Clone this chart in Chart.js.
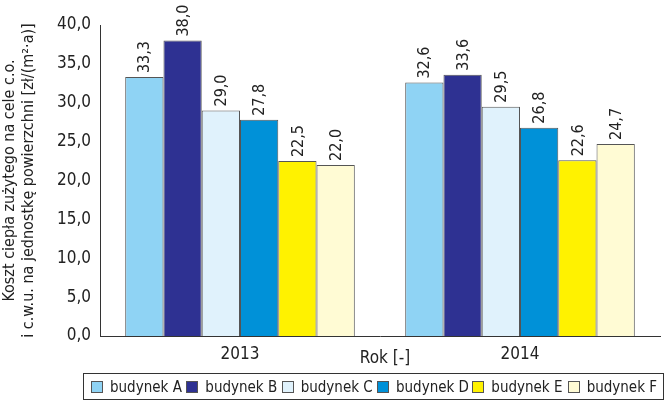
<!DOCTYPE html>
<html>
<head>
<meta charset="utf-8">
<script src="https://cdn.jsdelivr.net/npm/chart.js@4"></script>
<style>
  body { margin: 0; background: #fff; }
  #wrap { position: relative; width: 670px; height: 407px; }
  #legend {
    position: absolute; left: 83px; top: 373px; width: 579px; height: 25px;
    border: 1px solid #333; display: flex; align-items: center;
    font-family: "DejaVu Sans Condensed", "DejaVu Sans", sans-serif;
    font-stretch: condensed;
    font-size: 15px; color: #222; white-space: nowrap;
  }
  #legend .item { display: flex; align-items: center; width: 97px; }
  #legend .item:first-child { margin-left: 7px; }
  #legend .box { width: 10px; height: 10px; border: 1px solid #555; margin-right: 7px; flex: none; }
</style>
</head>
<body>
<div id="wrap">
  <canvas id="chart" width="670" height="407"></canvas>
  <div id="legend"></div>
</div>
<script>
const years = ['2013', '2014'];
const buildings = ['budynek A', 'budynek B', 'budynek C', 'budynek D', 'budynek E', 'budynek F'];
const budynekA = [33.3, 32.6];
const budynekB = [38.0, 33.6];
const budynekC = [29.0, 29.5];
const budynekD = [27.8, 26.8];
const budynekE = [22.5, 22.6];
const budynekF = [22.0, 24.7];
const colors = ['#8fd3f4', '#2e3192', '#e0f2fc', '#0091d8', '#fff200', '#fffbd4'];

const FONT = '"DejaVu Sans Condensed", "DejaVu Sans", sans-serif';
const series = [budynekA, budynekB, budynekC, budynekD, budynekE, budynekF];

function fmt(v) {
    return v.toFixed(1).replace('.', ',');
}

// value labels above each bar, rotated
const barLabels = {
    id: 'barLabels',
    afterDatasetsDraw(chart) {
        const ctx = chart.ctx;
        ctx.save();
        ctx.font = '16px ' + FONT;
        ctx.fillStyle = '#222';
        ctx.textAlign = 'left';
        ctx.textBaseline = 'middle';
        chart.data.datasets.forEach((ds, i) => {
            chart.getDatasetMeta(i).data.forEach((bar, j) => {
                ctx.save();
                ctx.translate(bar.x, bar.y - 4);
                ctx.rotate(-Math.PI / 2);
                ctx.fillText(fmt(ds.data[j]), 0, 1);
                ctx.restore();
            });
        });
        // x axis title sits between the tick labels
        const a = chart.chartArea;
        ctx.font = '17px ' + FONT;
        ctx.textAlign = 'center';
        ctx.fillText('Rok [-]', (a.left + a.right) / 2 + 5, a.bottom + 23);
        ctx.restore();
    }
};

new Chart(document.getElementById('chart'), {
    type: 'bar',
    data: {
        labels: years,
        datasets: buildings.map((name, i) => ({
            label: name,
            data: series[i],
            backgroundColor: colors[i],
            borderColor: '#555',
            borderWidth: 1,
            barPercentage: 1,
            categoryPercentage: 0.82
        }))
    },
    options: {
        responsive: false,
        animation: false,
        layout: { padding: { left: 0, right: 10, top: 25, bottom: 41 } },
        plugins: {
            legend: { display: false },
            tooltip: { enabled: false }
        },
        scales: {
            x: {
                grid: { display: false, drawTicks: false },
                border: { color: '#333', width: 1 },
                ticks: { color: '#222', font: { family: FONT, size: 17 }, padding: 8 },
                afterFit(scale) { scale.height = 30; }
            },
            y: {
                min: 0,
                max: 40,
                grid: { display: false, drawTicks: false },
                border: { color: '#333', width: 1 },
                ticks: {
                    stepSize: 5,
                    color: '#222',
                    font: { family: FONT, size: 17 },
                    padding: 9,
                    callback: v => fmt(v)
                },
                title: {
                    display: true,
                    text: ['Koszt ciepła zużytego na cele c.o.', 'i c.w.u. na jednostkę powierzchni [zł/(m²·a)]'],
                    color: '#222',
                    font: { family: FONT, size: 16 },
                    padding: 0
                },
                afterFit(scale) { scale.width = 100; }
            }
        }
    },
    plugins: [barLabels]
});

const legend = document.getElementById('legend');
buildings.forEach((name, i) => {
    const item = document.createElement('div');
    item.className = 'item';
    item.innerHTML = `<span class="box" style="background:${colors[i]}"></span>${name}`;
    legend.appendChild(item);
});
</script>
</body>
</html>
